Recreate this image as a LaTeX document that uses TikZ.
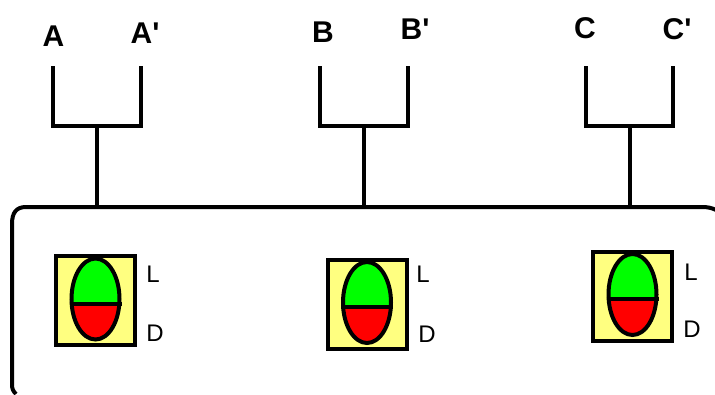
\documentclass[tikz,border=0pt]{standalone}
\usepackage{fontspec}
\setmainfont[Ligatures=TeXOff]{Liberation Sans}
\usetikzlibrary{shapes.geometric}
\definecolor{paleY}{RGB}{255,255,128}
\definecolor{leafG}{RGB}{0,255,0}
\definecolor{leafR}{RGB}{255,0,0}
\tikzset{
  wire/.style={draw=black,line width=4pt,line cap=butt,line join=miter},
  cell/.style={draw=black,line width=4pt,fill=paleY,rectangle,minimum width=79pt,minimum height=89pt,inner sep=0pt},
  bean/.style={draw=black,line width=4pt,ellipse,minimum width=48pt,minimum height=81pt,inner sep=0pt},
  toplab/.style={font=\fontsize{30}{30}\selectfont\bfseries,inner sep=0pt,text=black},
  sidelab/.style={font=\fontsize{24}{24}\selectfont,inner sep=0pt,text=black}
}
\newcommand{\unitcell}[3]{% name, box cx, box cy
  \node[cell] (#1box) at (#2,#3) {};
  \begin{scope}
    \clip (#2-24,#3-45) rectangle (#2+24,#3+3);
    \fill[leafG] (#2,#3-1.5) ellipse [x radius=24,y radius=40.5];
  \end{scope}
  \begin{scope}
    \clip (#2-24,#3+3) rectangle (#2+24,#3+45);
    \fill[leafR] (#2,#3-1.5) ellipse [x radius=24,y radius=40.5];
  \end{scope}
  \node[bean] (#1bean) at (#2,#3-1.5) {};
  \draw[line width=4pt] (#1bean.west |- 0,#3+3) -- (#1bean.east |- 0,#3+3);
}
\begin{document}
\begin{tikzpicture}[x=1pt,y=-1pt]
\useasboundingbox (0,0) rectangle (715,394);
\fill[white] (0,0) rectangle (715,394);
% frame
\draw[wire] (16,394) .. controls (13,391) and (12,389) .. (12,384) -- (12,224) .. controls (12,213) and (16,207) .. (26,207) -- (702,207) .. controls (708,207) and (712,208) .. (716,210);
% coordinates of the forks
\coordinate (a1) at (53,66); \coordinate (a2) at (141,66);
\coordinate (b1) at (320,66); \coordinate (b2) at (408,66);
\coordinate (c1) at (586,66); \coordinate (c2) at (673,66);
\coordinate (aj) at (97,126); \coordinate (bj) at (364,126); \coordinate (cj) at (630,126);
\coordinate (af) at (97,207); \coordinate (bf) at (364,207); \coordinate (cf) at (630,207);
\draw[wire] (a1) -- (a1 |- aj) -- (a2 |- aj) -- (a2);
\draw[wire] (aj) -- (af);
\draw[wire] (b1) -- (b1 |- bj) -- (b2 |- bj) -- (b2);
\draw[wire] (bj) -- (bf);
\draw[wire] (c1) -- (c1 |- cj) -- (c2 |- cj) -- (c2);
\draw[wire] (cj) -- (cf);
% labels
\node[toplab] (la) at (53.5,36.5) {A};
\node[toplab] (lap) at (145,33) {A'};
\node[toplab] (lb) at (323,32) {B};
\node[toplab] (lbp) at (415,29) {B'};
\node[toplab] (lc) at (585,28) {C};
\node[toplab] (lcp) at (677,29) {C'};
% cells
\unitcell{p}{95.5}{300.5}
\unitcell{q}{367}{304}
\unitcell{r}{632.5}{296}
\node[sidelab] (pl) at (153,274) {L};
\node[sidelab] (pd) at (155,333) {D};
\node[sidelab] (ql) at (423,274) {L};
\node[sidelab] (qd) at (427,334) {D};
\node[sidelab] (rl) at (691,272) {L};
\node[sidelab] (rd) at (692,329) {D};
\end{tikzpicture}
\end{document}
